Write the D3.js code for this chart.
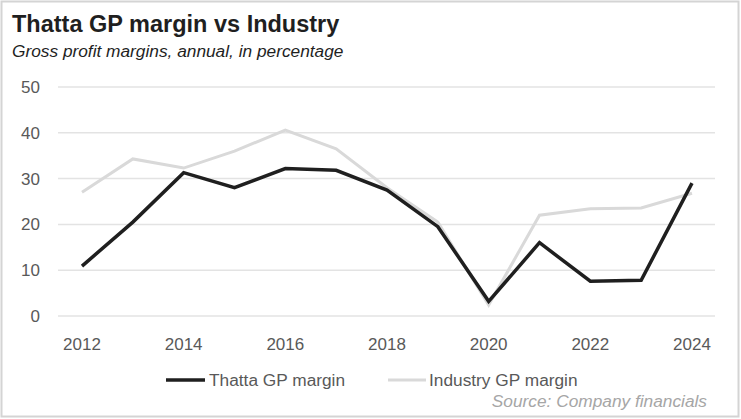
<!DOCTYPE html>
<html>
<head>
<meta charset="utf-8">
<script src="https://cdn.jsdelivr.net/npm/d3@7"></script>
<style>
  body { margin: 0; background: #fff; }
  svg text { font-family: "Liberation Sans", Arial, sans-serif; }
</style>
</head>
<body>
<script>
const years = [2012, 2013, 2014, 2015, 2016, 2017, 2018, 2019, 2020, 2021, 2022, 2023, 2024];
const thatta = [10.9, 20.5, 31.3, 28.0, 32.2, 31.8, 27.5, 19.5, 3.2, 16.0, 7.6, 7.8, 29.0];
const industry = [27.0, 34.3, 32.3, 36.0, 40.6, 36.5, 28.0, 20.5, 2.4, 22.0, 23.4, 23.6, 26.8];
const yTicks = [0, 10, 20, 30, 40, 50];
const xTicks = [2012, 2014, 2016, 2018, 2020, 2022, 2024];

const width = 741;
const height = 419;

const svg = d3.select("body")
  .append("svg")
  .attr("width", width)
  .attr("height", height);

// outer frame
svg.append("rect")
  .attr("x", 1.5).attr("y", 1.5)
  .attr("width", width - 4).attr("height", height - 4)
  .style("fill", "#fff")
  .style("stroke", "#d4d4d4")
  .style("stroke-width", 2);

const x = d3.scaleLinear().domain([2012, 2024]).range([82, 692]);
const y = d3.scaleLinear().domain([0, 50]).range([316, 87]);

// gridlines
svg.selectAll(".grid")
  .data(yTicks)
  .enter()
  .append("line")
  .attr("x1", 58).attr("x2", 715)
  .attr("y1", d => y(d)).attr("y2", d => y(d))
  .style("stroke", "#e3e3e3")
  .style("stroke-width", 1.5);

// y labels
svg.selectAll(".ylab")
  .data(yTicks)
  .enter()
  .append("text")
  .attr("x", 40)
  .attr("y", d => y(d) + 6)
  .attr("text-anchor", "end")
  .style("font-size", "17px")
  .style("fill", "#595959")
  .text(d => d);

// x labels
svg.selectAll(".xlab")
  .data(xTicks)
  .enter()
  .append("text")
  .attr("x", d => x(d))
  .attr("y", 350)
  .attr("text-anchor", "middle")
  .style("font-size", "17px")
  .style("fill", "#595959")
  .text(d => d);

const line = d3.line()
  .x((d, i) => x(years[i]))
  .y(d => y(d));

svg.append("path")
  .datum(industry)
  .attr("d", line)
  .style("fill", "none")
  .style("stroke", "#d9d9d9")
  .style("stroke-width", 3);

svg.append("path")
  .datum(thatta)
  .attr("d", line)
  .style("fill", "none")
  .style("stroke", "#1f1f1f")
  .style("stroke-width", 3.5);

// title
svg.append("text")
  .attr("x", 12).attr("y", 32)
  .style("font-size", "23.5px")
  .style("font-weight", "bold")
  .style("fill", "#1f1f1f")
  .text("Thatta GP margin vs Industry");

svg.append("text")
  .attr("x", 12).attr("y", 57)
  .style("font-size", "17.3px")
  .style("font-style", "italic")
  .style("fill", "#1f1f1f")
  .text("Gross profit margins, annual, in percentage");

// legend
svg.append("line")
  .attr("x1", 166).attr("x2", 205)
  .attr("y1", 380).attr("y2", 380)
  .style("stroke", "#1f1f1f")
  .style("stroke-width", 3.5);
svg.append("text")
  .attr("x", 209).attr("y", 386)
  .style("font-size", "17.3px")
  .style("fill", "#595959")
  .text("Thatta GP margin");

svg.append("line")
  .attr("x1", 388).attr("x2", 426)
  .attr("y1", 380).attr("y2", 380)
  .style("stroke", "#d9d9d9")
  .style("stroke-width", 3);
svg.append("text")
  .attr("x", 429).attr("y", 386)
  .style("font-size", "17.3px")
  .style("fill", "#595959")
  .text("Industry GP margin");

// source
svg.append("text")
  .attr("x", 707).attr("y", 407)
  .attr("text-anchor", "end")
  .style("font-size", "17.3px")
  .style("font-style", "italic")
  .style("fill", "#a6a6a6")
  .text("Source: Company financials");
</script>
</body>
</html>
